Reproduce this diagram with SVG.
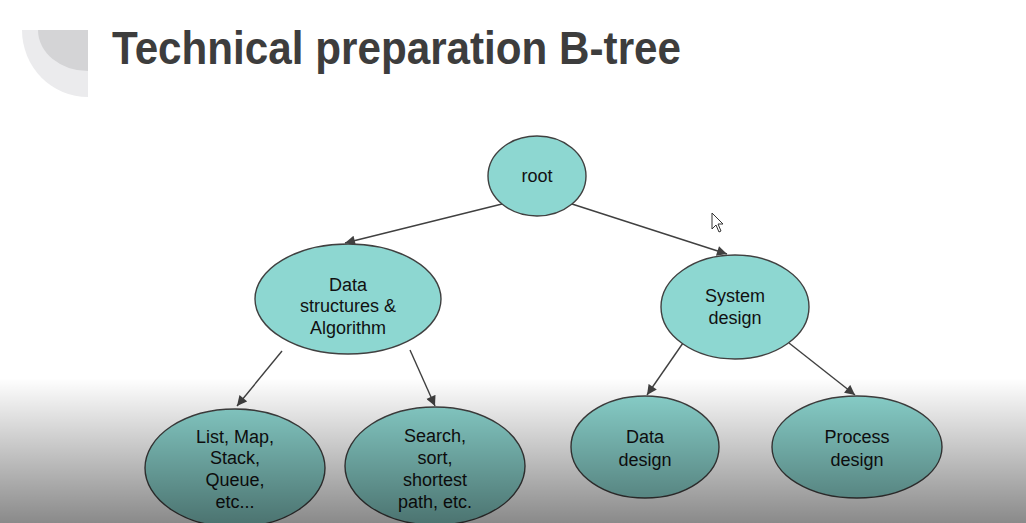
<svg xmlns="http://www.w3.org/2000/svg" width="1026" height="523" viewBox="0 0 1026 523">
<defs>
<style>
.node ellipse{fill:#8dd7d1;stroke:#404040;stroke-width:1.4}
.node text{font-family:"Liberation Sans",Arial,sans-serif;font-size:18px;fill:#111;text-anchor:middle}
.edge{stroke:#404040;stroke-width:1.4;fill:none;marker-end:url(#arr)}
</style>
<marker id="arr" viewBox="0 0 10 10" refX="10" refY="5" markerWidth="11" markerHeight="10" markerUnits="userSpaceOnUse" orient="auto">
<path d="M0,0 L10,5 L0,10 Z" fill="#404040"/>
</marker>
<linearGradient id="shade" x1="0" y1="378" x2="0" y2="523" gradientUnits="userSpaceOnUse">
<stop offset="0" stop-color="#000" stop-opacity="0"/>
<stop offset="1" stop-color="#000" stop-opacity="0.46"/>
</linearGradient>
</defs>
<rect width="1026" height="523" fill="#ffffff"/>
<path d="M22,30 L88,30 L88,97 A66,67 0 0 1 22,30 Z" fill="#ebebed"/>
<path d="M38,30 L88,30 L88,71 A50,41 0 0 1 38,30 Z" fill="#d4d4d6"/>
<text x="112" y="64" font-family="Liberation Sans,Arial,sans-serif" font-weight="bold" font-size="46" fill="#3d3d3d" textLength="569" lengthAdjust="spacingAndGlyphs">Technical preparation B-tree</text>
<g id="connectors">
<line class="edge" x1="502" y1="204" x2="345" y2="243"/>
<line class="edge" x1="572" y1="204" x2="727" y2="254"/>
<line class="edge" x1="282" y1="351" x2="237" y2="406"/>
<line class="edge" x1="410" y1="350" x2="435" y2="406"/>
<line class="edge" x1="683" y1="343" x2="647" y2="395"/>
<line class="edge" x1="789" y1="343" x2="855" y2="395"/>
</g>
<g id="root" class="node"><ellipse cx="537" cy="176" rx="49" ry="40"/><text x="537" y="182">root</text></g>
<g id="ds" class="node"><ellipse cx="348" cy="299" rx="93" ry="55"/><text x="348" y="291">Data</text><text x="348" y="312">structures &amp;</text><text x="348" y="334">Algorithm</text></g>
<g id="system" class="node"><ellipse cx="735" cy="307" rx="74" ry="52"/><text x="735" y="302">System</text><text x="735" y="324">design</text></g>
<g id="list" class="node"><ellipse cx="235" cy="468" rx="90" ry="59"/><text x="235" y="443">List, Map,</text><text x="235" y="464">Stack,</text><text x="235" y="486">Queue,</text><text x="235" y="508">etc...</text></g>
<g id="search" class="node"><ellipse cx="435" cy="466" rx="90" ry="59"/><text x="435" y="442">Search,</text><text x="435" y="464">sort,</text><text x="435" y="486">shortest</text><text x="435" y="508">path, etc.</text></g>
<g id="datadesign" class="node"><ellipse cx="645" cy="447" rx="74" ry="51"/><text x="645" y="443">Data</text><text x="645" y="466">design</text></g>
<g id="process" class="node"><ellipse cx="857" cy="447" rx="85" ry="51"/><text x="857" y="443">Process</text><text x="857" y="466">design</text></g>
<rect x="0" y="378" width="1026" height="145" fill="url(#shade)"/>
<path d="M712,213 L712,229 L716,225 L719,232 L721,231 L718,224 L723,224 Z" fill="#fff" stroke="#333" stroke-width="1"/>
</svg>
